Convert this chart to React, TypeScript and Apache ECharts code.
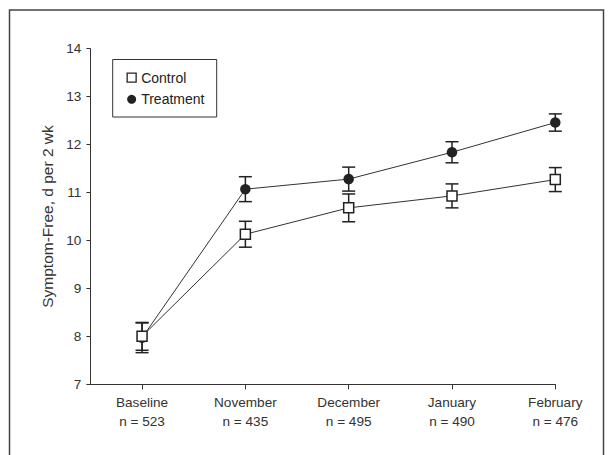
import React, { useEffect, useRef } from "react";
import * as echarts from "echarts";

const categories = ["Baseline", "November", "December", "January", "February"];
const sampleSizes = [523, 435, 495, 490, 476];
const controlMean = [8.0, 10.13, 10.68, 10.93, 11.27];
const controlErr = [0.29, 0.27, 0.29, 0.25, 0.25];
const treatmentMean = [7.97, 11.07, 11.28, 11.84, 12.46];
const treatmentErr = [0.31, 0.26, 0.25, 0.22, 0.18];
const yTicks = [7, 8, 9, 10, 11, 12, 13, 14];

const FONT = "'Liberation Sans', Arial, sans-serif";
const INK = "#222";

function errorSeries(name: string, means: number[], errs: number[], z: number) {
  return {
    name: name + " error",
    type: "custom",
    z,
    silent: true,
    data: means.map((m, i) => [i, m, errs[i]]),
    encode: { x: 0, y: 1 },
    renderItem: (params: any, api: any) => {
      const x = api.value(0);
      const m = api.value(1);
      const e = api.value(2);
      const top = api.coord([x, m + e]);
      const bot = api.coord([x, m - e]);
      const hw = 6.5;
      const style = { stroke: INK, lineWidth: 1.5 };
      return {
        type: "group",
        children: [
          { type: "line", shape: { x1: top[0], y1: top[1], x2: bot[0], y2: bot[1] }, style },
          { type: "line", shape: { x1: top[0] - hw, y1: top[1], x2: top[0] + hw, y2: top[1] }, style },
          { type: "line", shape: { x1: bot[0] - hw, y1: bot[1], x2: bot[0] + hw, y2: bot[1] }, style },
        ],
      };
    },
  };
}

export default function App() {
  const ref = useRef<HTMLDivElement>(null);
  useEffect(() => {
    if (!ref.current) return;
    const chart = echarts.init(ref.current, null, { renderer: "svg" });
    const idx = categories.map((_, i) => i);
    chart.setOption({
      animation: false,
      backgroundColor: "#fff",
      textStyle: { fontFamily: FONT },
      grid: { left: 90.4, right: 55.7, top: 48.7, bottom: 70.7, containLabel: false },
      xAxis: {
        type: "value",
        min: -0.5,
        max: 4,
        axisLine: { show: true, onZero: false, lineStyle: { color: "#333", width: 1 } },
        axisTick: { show: true, customValues: idx, length: 5, lineStyle: { color: "#333" } },
        splitLine: { show: false },
        axisLabel: {
          customValues: idx,
          margin: 8,
          color: "#333",
          fontFamily: FONT,
          fontSize: 13.6,
          lineHeight: 19.5,
          formatter: (v: number) => {
            const i = Math.round(v);
            return categories[i] + "\nn = " + sampleSizes[i];
          },
        },
      },
      yAxis: {
        type: "value",
        min: yTicks[0],
        max: yTicks[yTicks.length - 1],
        interval: 1,
        name: "Symptom-Free, d per 2 wk",
        nameLocation: "middle",
        nameGap: 29,
        nameTextStyle: { color: "#333", fontFamily: FONT, fontSize: 15.5 },
        axisLine: { show: true, onZero: false, lineStyle: { color: "#333", width: 1 } },
        axisTick: { show: true, length: 4, lineStyle: { color: "#333" } },
        splitLine: { show: false },
        axisLabel: { margin: 9, color: "#333", fontFamily: FONT, fontSize: 13.6 },
      },
      legend: {
        left: 126.5,
        top: 69.7,
        orient: "vertical",
        itemGap: 5.6,
        itemWidth: 9,
        itemHeight: 9,
        padding: 0,
        selectedMode: false,
        textStyle: { color: "#222", fontFamily: FONT, fontSize: 14, lineHeight: 16 },
        data: [
          { name: "Control", icon: "rect", itemStyle: { color: "#fff", borderColor: INK, borderWidth: 1.3 } },
          { name: "Treatment", icon: "circle", itemStyle: { color: INK, borderWidth: 0 } },
        ],
      },
      graphic: [
        {
          type: "rect",
          shape: { x: 9.5, y: 10, width: 594, height: 500 },
          style: { fill: "none", stroke: "#444", lineWidth: 1.5 },
          silent: true,
          z: 100,
        },
        {
          type: "rect",
          shape: { x: 112.7, y: 59.5, width: 104, height: 57.5 },
          style: { fill: "none", stroke: "#333", lineWidth: 1 },
          silent: true,
          z: 100,
        },
      ],
      series: [
        errorSeries("Treatment", treatmentMean, treatmentErr, 1),
        {
          name: "Treatment",
          type: "line",
          z: 2,
          data: treatmentMean.map((v, i) => [i, v]),
          symbol: "circle",
          symbolSize: 10.5,
          lineStyle: { color: "#333", width: 1 },
          itemStyle: { color: INK, borderWidth: 0 },
        },
        errorSeries("Control", controlMean, controlErr, 3),
        {
          name: "Control",
          type: "line",
          z: 4,
          data: controlMean.map((v, i) => [i, v]),
          symbol: "rect",
          symbolSize: 10,
          lineStyle: { color: "#333", width: 1 },
          itemStyle: { color: "#fff", borderColor: INK, borderWidth: 1.5 },
        },
      ],
    });
    return () => chart.dispose();
  }, []);
  return (
    <div
      ref={ref}
      style={{ position: "fixed", left: 0, top: 0, width: 611, height: 455, background: "#fff" }}
    />
  );
}
